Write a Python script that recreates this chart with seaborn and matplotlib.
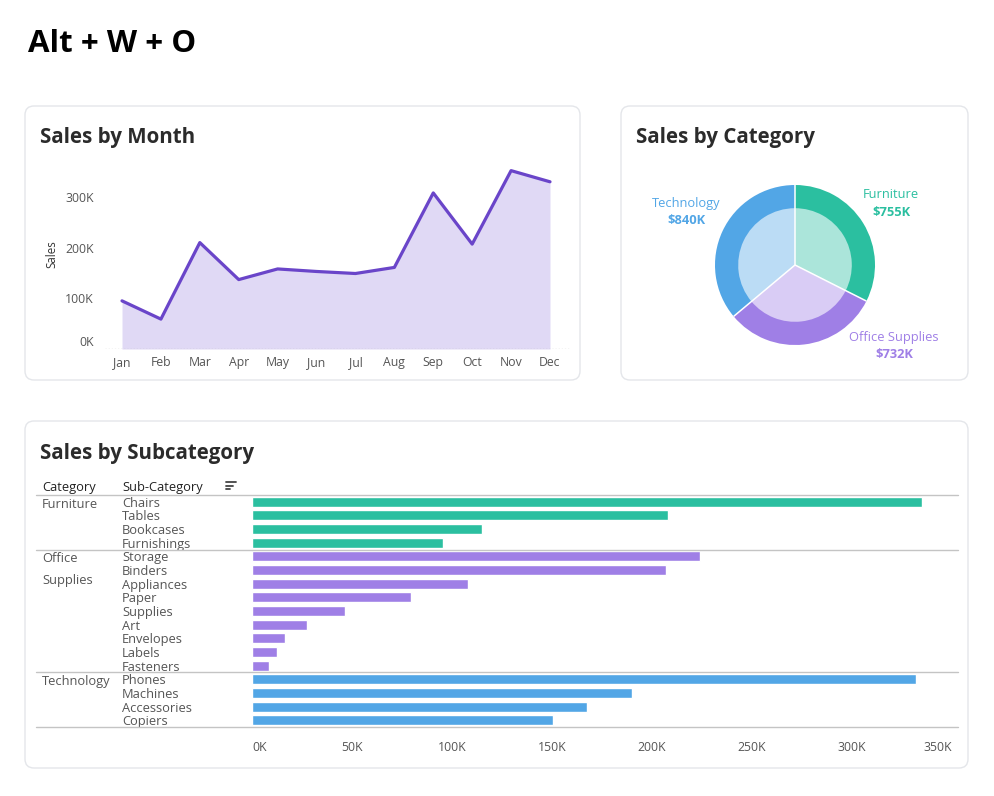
import numpy as np
import pandas as pd
import seaborn as sns
import matplotlib.pyplot as plt
from matplotlib.patches import FancyBboxPatch
from matplotlib.transforms import ScaledTranslation

# ---- data ----
months = ['Jan', 'Feb', 'Mar', 'Apr', 'May', 'Jun',
          'Jul', 'Aug', 'Sep', 'Oct', 'Nov', 'Dec']
month_sales = [95, 59, 210, 137, 158, 153, 149, 161, 308, 207, 352, 330]

categories = ['Furniture', 'Office Supplies', 'Technology']
category_sales = [755, 732, 840]

sub_furniture = ['Chairs', 'Tables', 'Bookcases', 'Furnishings']
sales_furniture = [335, 208, 115, 95.5]
sub_office = ['Storage', 'Binders', 'Appliances', 'Paper', 'Supplies',
              'Art', 'Envelopes', 'Labels', 'Fasteners']
sales_office = [224, 207, 108, 79.5, 46.5, 27.5, 16.5, 12.5, 8.5]
sub_tech = ['Phones', 'Machines', 'Accessories', 'Copiers']
sales_tech = [332, 190, 167.5, 150.5]

dark = {'Furniture': '#2BBFA0', 'Office Supplies': '#9F7FE6',
        'Technology': '#52A6E6'}
light = {'Furniture': '#ABE5DA', 'Office Supplies': '#D9CCF5',
         'Technology': '#BBDCF5'}

sns.set_theme(style='white')
plt.rcParams['font.family'] = ['Open Sans', 'DejaVu Sans']
TXT = '#555555'
HEAD = '#2b2b2b'

W, H = 995, 796
fig = plt.figure(figsize=(W / 100, H / 100), dpi=100)


def px_axes(left, top, right, bottom):
    return fig.add_axes([left / W, 1 - bottom / H,
                         (right - left) / W, (bottom - top) / H])


# background layer in pixel coordinates
bg = fig.add_axes([0, 0, 1, 1], zorder=-1)
bg.set_xlim(0, W)
bg.set_ylim(H, 0)
bg.axis('off')
for (x0, y0, x1, y1) in [(25, 106, 580, 380), (621, 106, 968, 380),
                         (25, 421, 968, 768)]:
    bg.add_patch(FancyBboxPatch((x0, y0), x1 - x0, y1 - y0,
                                boxstyle='round,pad=0,rounding_size=9',
                                fc='white', ec='#E4E6EA', lw=1))
bg.text(28, 44, 'Alt + W + O', fontsize=22.5, fontweight='bold',
        color='black', va='center')
bg.text(40, 138, 'Sales by Month', fontsize=14.8, fontweight='bold',
        color=HEAD, va='center')
bg.text(636, 138, 'Sales by Category', fontsize=14.8, fontweight='bold',
        color=HEAD, va='center')
bg.text(40, 453, 'Sales by Subcategory', fontsize=14.8, fontweight='bold',
        color=HEAD, va='center')
bg.text(42, 487, 'Category', fontsize=9.3, color='#222', va='center')
bg.text(122, 487, 'Sub-Category', fontsize=9.3, color='#222', va='center')
for i, ln in enumerate([10, 7, 4]):
    bg.plot([226, 226 + ln], [482 + 3.5 * i] * 2, color='#444', lw=1.3)

# ---- Sales by Month ----
ax1 = px_axes(105, 160, 570, 349)
month_df = pd.DataFrame({'month': months,
                         'sales': np.array(month_sales) * 1000})
pos = np.arange(len(months))
ax1.fill_between(pos, month_df['sales'], color='#E0D9F5', lw=0)
sns.lineplot(x=pos, y=month_df['sales'], ax=ax1, color='#6A45C9', lw=2.3)
ax1.axhline(0, ls=(0, (1, 1.5)), color='#aaaaaa', lw=0.9)
ax1.set_xlim(-17 / 38.9, 11 + 20 / 38.9)
ax1.set_ylim(0, 189 / 0.5067 * 1000)
ax1.set_xticks(pos)
ax1.set_xticklabels(months)
ax1.set_yticks([0, 100000, 200000, 300000])
ax1.set_yticklabels(['0K', '100K', '200K', '300K'])
ax1.tick_params(axis='both', length=0, labelsize=8.8, colors=TXT)
ax1.tick_params(axis='x', pad=5)
ax1.tick_params(axis='y', pad=8)
ax1.set_xlabel('')
ax1.set_ylabel('Sales', fontsize=8.3, color='#333', labelpad=5)
lab0 = ax1.get_yticklabels()[0]
lab0.set_transform(lab0.get_transform() +
                   ScaledTranslation(0, 8 / 100, fig.dpi_scale_trans))
sns.despine(ax=ax1, left=True, bottom=True)
ax1.patch.set_alpha(0)

# ---- Sales by Category (donut) ----
ax2 = px_axes(621, 150, 968, 380)
cx, cy, r = 795, 265, 80
ax2.pie(category_sales, colors=[light[c] for c in categories], radius=0.72,
        startangle=90, counterclock=False,
        wedgeprops=dict(edgecolor='none'))
ax2.pie(category_sales, colors=[dark[c] for c in categories], radius=1,
        startangle=90, counterclock=False,
        wedgeprops=dict(width=0.29, edgecolor='none'))
# white separators along the wedge boundaries
bounds = 90 - 360 * np.cumsum([0] + category_sales[:-1]) / sum(category_sales)
for a in np.deg2rad(bounds):
    ax2.plot([0, np.cos(a)], [0, np.sin(a)], color='white', lw=1.1,
             solid_capstyle='butt')
ax2.set_xlim((621 - cx) / r, (968 - cx) / r)
ax2.set_ylim((cy - 380) / r, (cy - 150) / r)
ax2.set_aspect('auto')
ax2.axis('off')
label_px = {'Furniture': (891, 195), 'Office Supplies': (894, 337),
            'Technology': (686, 203)}
for c, v in zip(categories, category_sales):
    lx, ly = label_px[c]
    ax2.text((lx - cx) / r, (cy - ly) / r, c, ha='center', va='center',
             fontsize=9.3, color=dark[c])
    ax2.text((lx - cx) / r, (cy - ly - 17) / r, f'${v}K', ha='center',
             va='center', fontsize=9.3, fontweight='bold', color=dark[c])

# ---- Sales by Subcategory ----
ax3 = px_axes(252, 495, 958, 727)
sub_df = pd.DataFrame({
    'sub': sub_furniture + sub_office + sub_tech,
    'sales': np.array(sales_furniture + sales_office + sales_tech) * 1000,
    'category': (['Furniture'] * len(sub_furniture) +
                 ['Office Supplies'] * len(sub_office) +
                 ['Technology'] * len(sub_tech)),
})
sns.barplot(data=sub_df, x='sales', y='sub', hue='category', palette=dark,
            dodge=False, legend=False, width=0.73, ax=ax3, saturation=1)
n = len(sub_df)
ax3.set_ylim(n - 0.5, -0.5)
ax3.set_xlim(0, 353000)
ticks = np.arange(0, 350001, 50000)
ax3.set_xticks(ticks)
ax3.set_xticklabels([f'{int(t / 1000)}K' for t in ticks])
xl = ax3.get_xticklabels()
xl[0].set_ha('left')
xl[-1].set_ha('right')
ax3.tick_params(axis='x', length=4, width=0.6, color='#eeeeee',
                labelsize=8.8, colors=TXT, pad=6)
ax3.tick_params(axis='y', length=0, labelsize=9.3, colors=TXT, pad=93.6)
for lab in ax3.get_yticklabels():
    lab.set_ha('left')
ax3.set_xlabel('')
ax3.set_ylabel('')
sns.despine(ax=ax3, left=True, bottom=True)
ax3.patch.set_alpha(0)

ytr = ax3.get_yaxis_transform()
start = 0
x_line = (36 - 252) / 706
x_cat = (42 - 252) / 706
ax3.plot([x_line, 1], [-0.5, -0.5], transform=ytr, color='#c4c4c4',
         lw=1, clip_on=False)
for c, subs in zip(categories, [sub_furniture, sub_office, sub_tech]):
    end = start + len(subs)
    ax3.plot([x_line, 1], [end - 0.5, end - 0.5], transform=ytr,
             color='#c4c4c4', lw=1, clip_on=False)
    ax3.text(x_cat, start - 0.3, c.replace(' ', '\n'), transform=ytr,
             ha='left', va='top', fontsize=9.3, color=TXT, linespacing=1.85)
    start = end

fig.savefig('out.png', dpi=100, facecolor='white')
